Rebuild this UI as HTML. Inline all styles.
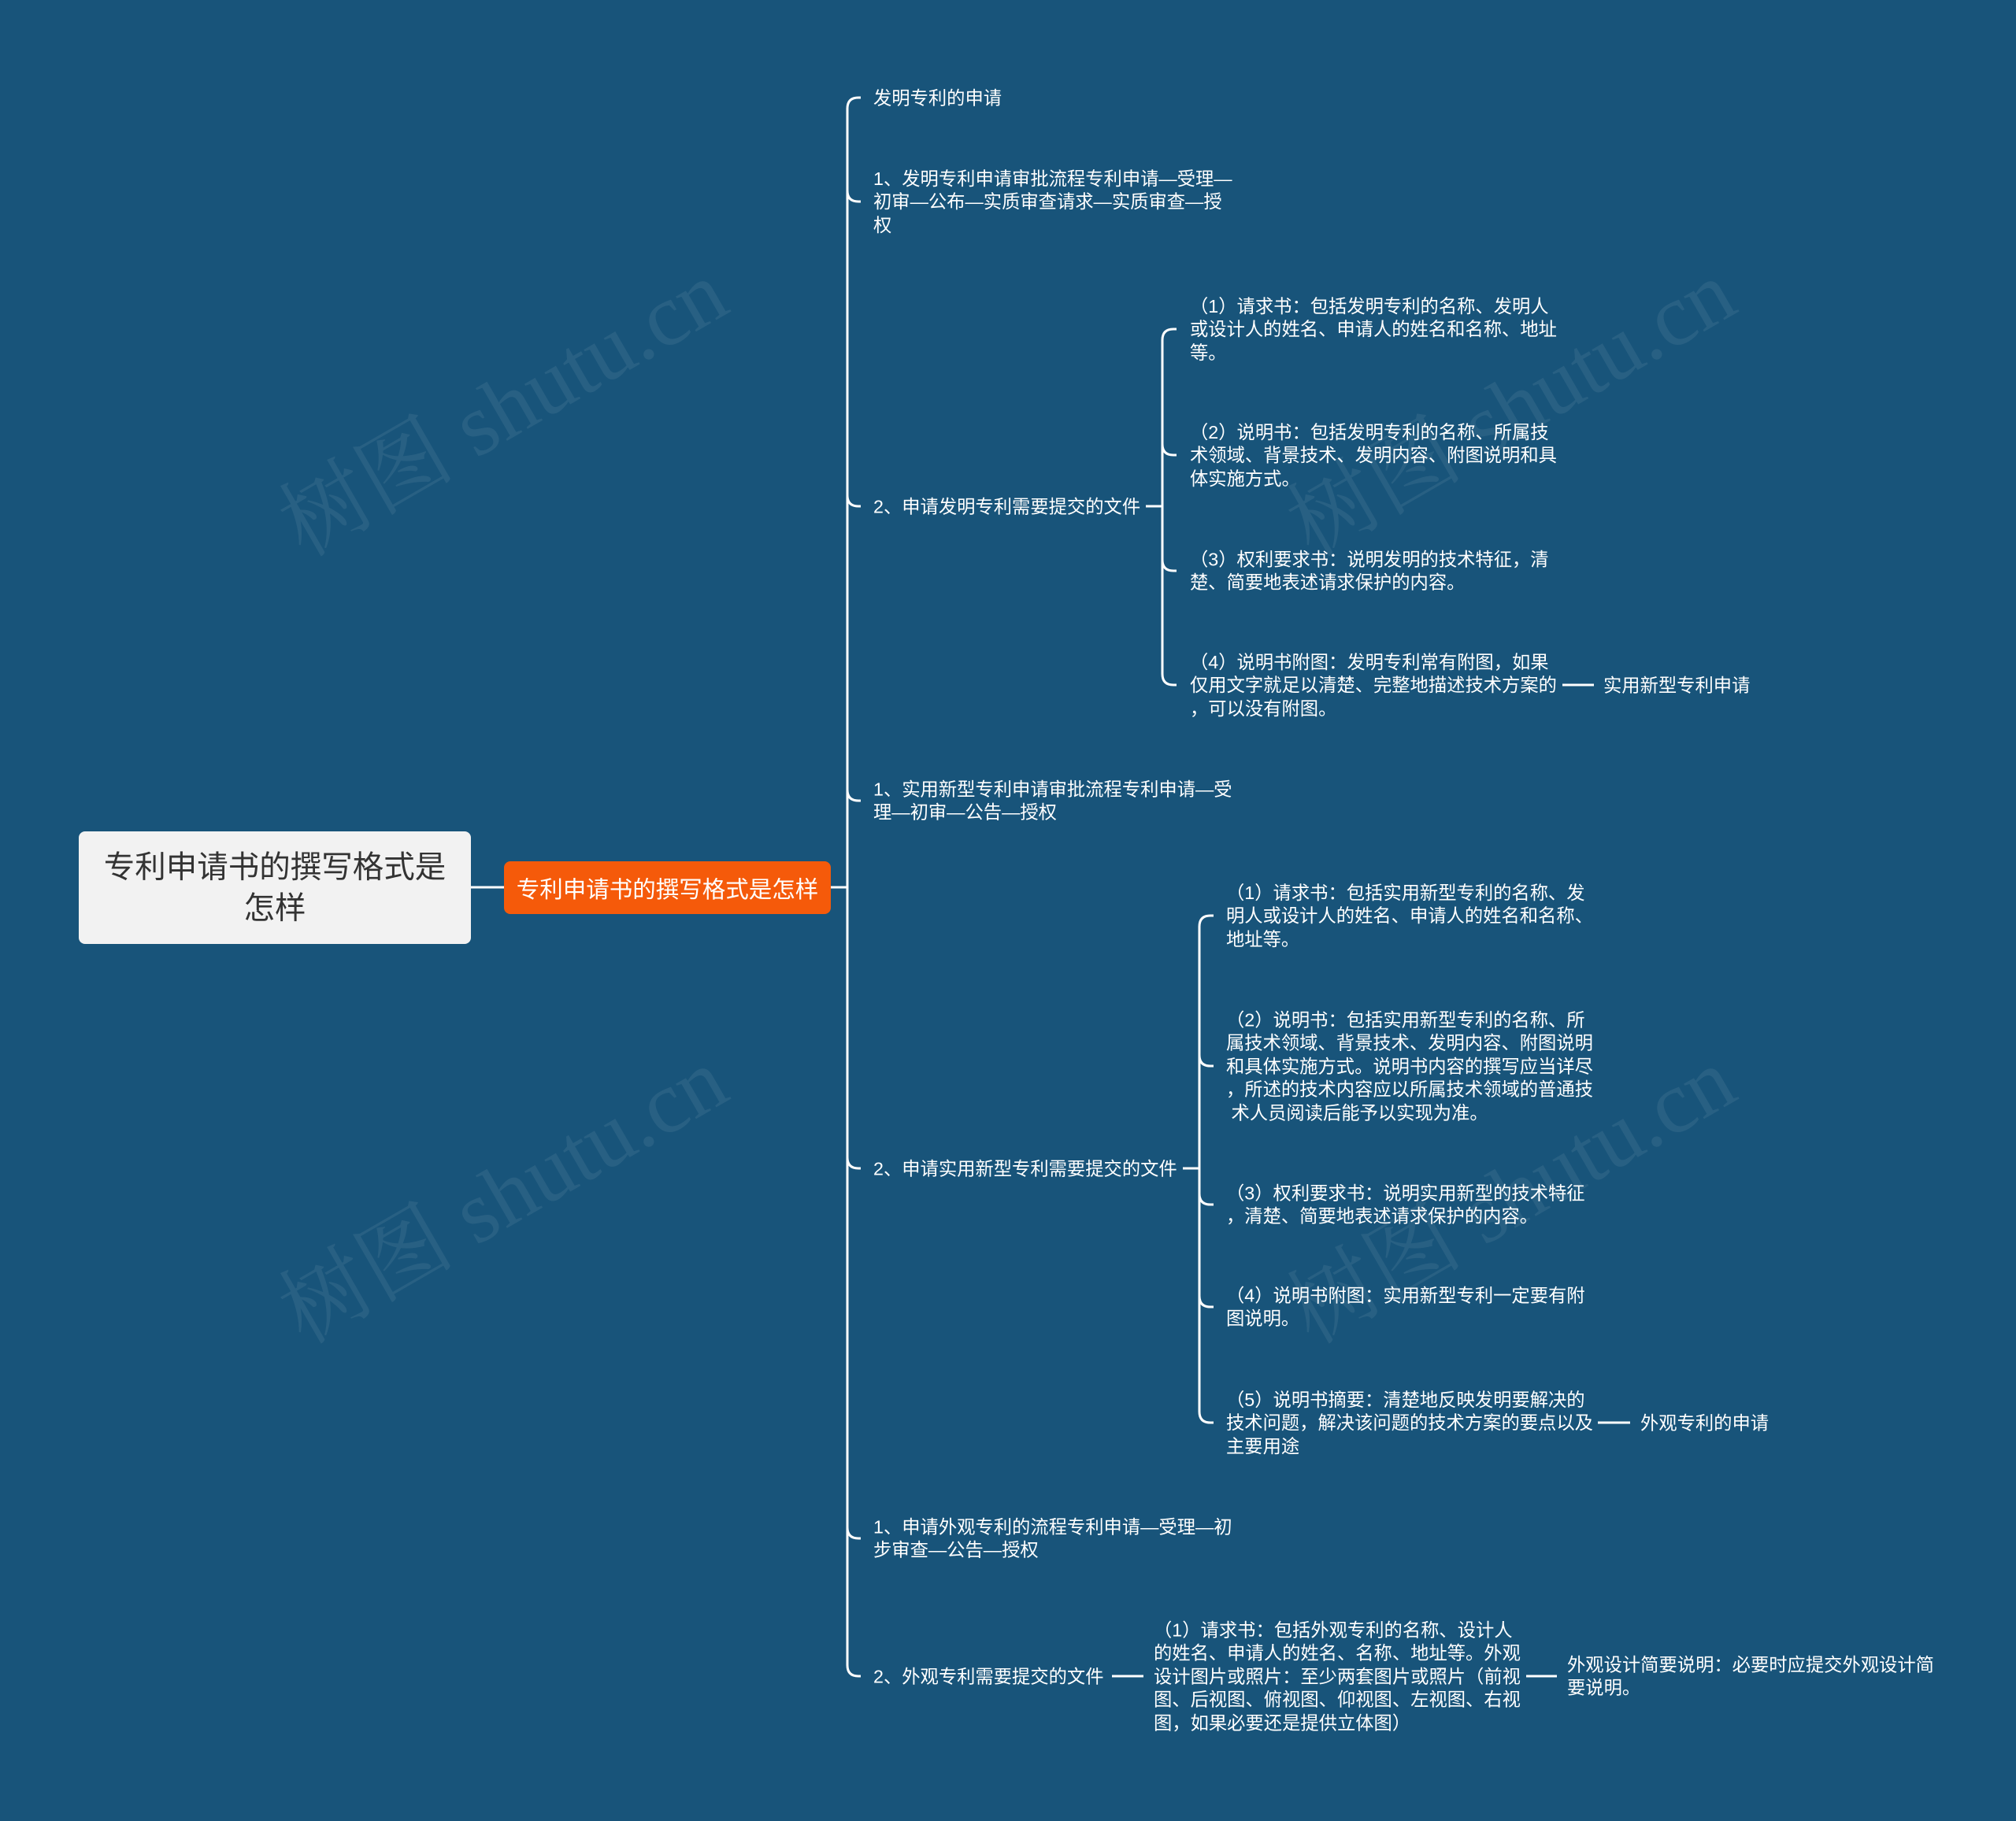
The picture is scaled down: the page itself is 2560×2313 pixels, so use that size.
<!DOCTYPE html>
<html><head><meta charset="utf-8"><style>
html,body{margin:0;padding:0}
body{width:2560px;height:2313px;background:#18547a;position:relative;overflow:hidden;font-family:"Liberation Sans","Noto Sans CJK SC",sans-serif}
.t{position:absolute;color:#fff;font-size:23.3px;line-height:29.4px;white-space:nowrap;transform:translateY(-50%)}
.wm{position:absolute;color:rgba(255,255,255,0.07);font-size:112px;font-family:"Liberation Serif","Noto Serif CJK SC",serif;transform:rotate(-30deg);white-space:nowrap}
#root{position:absolute;left:100px;top:1056px;width:498px;height:143px;background:#f2f2f2;border-radius:8px;color:#333;font-size:39.5px;line-height:52px;text-align:center;display:flex;align-items:center;justify-content:center}
#center{position:absolute;left:640px;top:1094px;width:415px;height:67px;background:#f55a0a;border-radius:8px;color:#fff;font-size:29.5px;display:flex;align-items:center;justify-content:center;white-space:nowrap}
</style></head><body>
<div class="wm" style="left:320px;top:430px">树图 shutu.cn</div>
<div class="wm" style="left:1600px;top:430px">树图 shutu.cn</div>
<div class="wm" style="left:320px;top:1430px">树图 shutu.cn</div>
<div class="wm" style="left:1600px;top:1430px">树图 shutu.cn</div>
<svg width="2560" height="2313" style="position:absolute;left:0;top:0" fill="none" stroke="#fff" stroke-width="3">
<path d="M598 1127H640M1055 1127H1076"/>
<path d="M1093 124H1090Q1076 124 1076 138V2115Q1076 2129 1090 2129H1093"/>
<path d="M1076 242Q1076 256 1090 256H1093M1076 629Q1076 643 1090 643H1093M1076 1003Q1076 1017 1090 1017H1093M1076 1470Q1076 1484 1090 1484H1093M1076 1940Q1076 1954 1090 1954H1093"/>
<path d="M1455 643H1476"/>
<path d="M1494 418H1490Q1476 418 1476 432V856Q1476 870 1490 870H1494"/>
<path d="M1476 564Q1476 578 1490 578H1494M1476 711Q1476 725 1490 725H1494"/>
<path d="M1984 870H2024"/>
<path d="M1502 1484H1523"/>
<path d="M1541 1163H1537Q1523 1163 1523 1177V1793Q1523 1807 1537 1807H1541"/>
<path d="M1523 1340Q1523 1354 1537 1354H1541M1523 1516Q1523 1530 1537 1530H1541M1523 1646Q1523 1660 1537 1660H1541"/>
<path d="M2029 1807H2070"/>
<path d="M1412 2129H1452M1938 2129H1977"/>
</svg>
<div id="root">专利申请书的撰写格式是<br>怎样</div>
<div id="center">专利申请书的撰写格式是怎样</div>

<div class="t" style="left:1109px;top:125px">发明专利的申请</div>
<div class="t" style="left:1109px;top:257px">1、发明专利申请审批流程专利申请—受理—<br>初审—公布—实质审查请求—实质审查—授<br>权</div>
<div class="t" style="left:1109px;top:644px">2、申请发明专利需要提交的文件</div>
<div class="t" style="left:1511px;top:419px">（1）请求书：包括发明专利的名称、发明人<br>或设计人的姓名、申请人的姓名和名称、地址<br>等。</div>
<div class="t" style="left:1511px;top:579px">（2）说明书：包括发明专利的名称、所属技<br>术领域、背景技术、发明内容、附图说明和具<br>体实施方式。</div>
<div class="t" style="left:1511px;top:726px">（3）权利要求书：说明发明的技术特征，清<br>楚、简要地表述请求保护的内容。</div>
<div class="t" style="left:1511px;top:871px">（4）说明书附图：发明专利常有附图，如果<br>仅用文字就足以清楚、完整地描述技术方案的<br>，可以没有附图。</div>
<div class="t" style="left:2036px;top:871px">实用新型专利申请</div>
<div class="t" style="left:1109px;top:1018px">1、实用新型专利申请审批流程专利申请—受<br>理—初审—公告—授权</div>
<div class="t" style="left:1109px;top:1485px">2、申请实用新型专利需要提交的文件</div>
<div class="t" style="left:1557px;top:1164px">（1）请求书：包括实用新型专利的名称、发<br>明人或设计人的姓名、申请人的姓名和名称、<br>地址等。</div>
<div class="t" style="left:1557px;top:1355px">（2）说明书：包括实用新型专利的名称、所<br>属技术领域、背景技术、发明内容、附图说明<br>和具体实施方式。说明书内容的撰写应当详尽<br>，所述的技术内容应以所属技术领域的普通技<br>&nbsp;术人员阅读后能予以实现为准。</div>
<div class="t" style="left:1557px;top:1531px">（3）权利要求书：说明实用新型的技术特征<br>，清楚、简要地表述请求保护的内容。</div>
<div class="t" style="left:1557px;top:1661px">（4）说明书附图：实用新型专利一定要有附<br>图说明。</div>
<div class="t" style="left:1557px;top:1808px">（5）说明书摘要：清楚地反映发明要解决的<br>技术问题，解决该问题的技术方案的要点以及<br>主要用途</div>
<div class="t" style="left:2083px;top:1808px">外观专利的申请</div>
<div class="t" style="left:1109px;top:1955px">1、申请外观专利的流程专利申请—受理—初<br>步审查—公告—授权</div>
<div class="t" style="left:1109px;top:2130px">2、外观专利需要提交的文件</div>
<div class="t" style="left:1465px;top:2130px">（1）请求书：包括外观专利的名称、设计人<br>的姓名、申请人的姓名、名称、地址等。外观<br>设计图片或照片：至少两套图片或照片（前视<br>图、后视图、俯视图、仰视图、左视图、右视<br>图，如果必要还是提供立体图）</div>
<div class="t" style="left:1990px;top:2130px">外观设计简要说明：必要时应提交外观设计简<br>要说明。</div>
</body></html>
